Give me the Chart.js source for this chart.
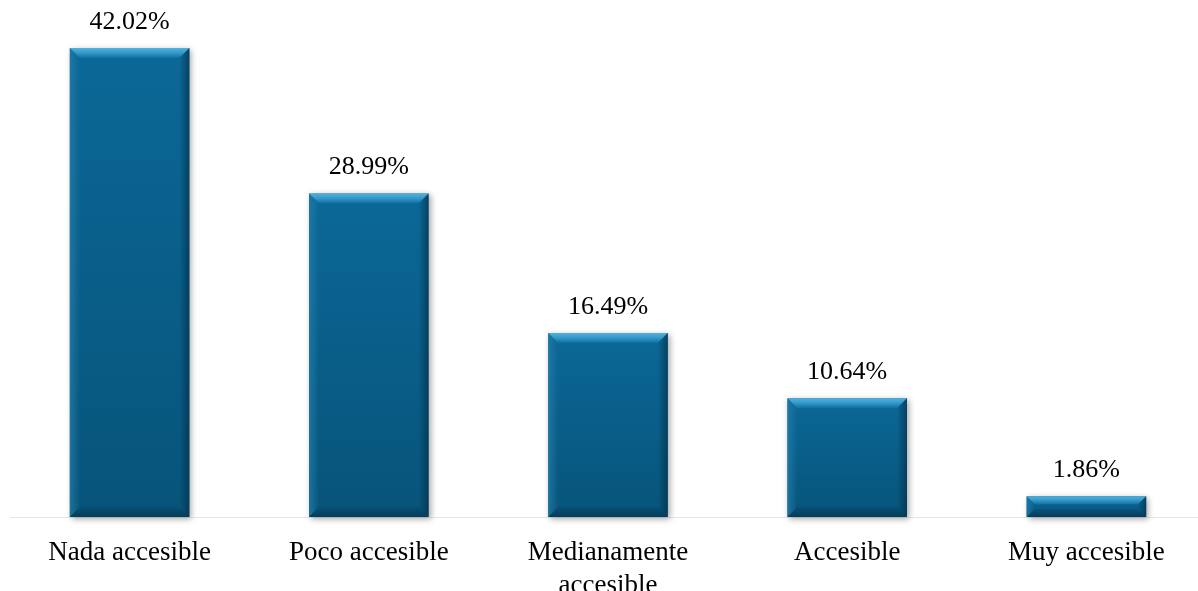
<!DOCTYPE html>
<html>
<head>
<meta charset="utf-8">
<script src="https://cdn.jsdelivr.net/npm/chart.js@4"></script>
<style>
  html, body { margin: 0; padding: 0; background: #fff; overflow: hidden; }
  #wrap { width: 1216px; height: 591px; }
</style>
</head>
<body>
<div id="wrap"><canvas id="chart" width="1216" height="591"></canvas></div>
<script>
// Categories and percentages
const categories = [
  'Nada accesible',
  'Poco accesible',
  ['Medianamente', 'accesible'],
  'Accesible',
  'Muy accesible'
];
const percentages = [42.02, 28.99, 16.49, 10.64, 1.86];

const FONT = '"Liberation Serif", "Times New Roman", serif';

// Beveled bar look: shadowed face plus light/dark edge trapezoids
const bevelBars = {
  id: 'bevelBars',
  afterDatasetsDraw(chart) {
    const ctx = chart.ctx;
    const meta = chart.getDatasetMeta(0);
    meta.data.forEach(bar => {
      const left = bar.x - bar.width / 2;
      const right = bar.x + bar.width / 2;
      const top = bar.y;
      const bottom = bar.base;
      const h = bottom - top;
      const b = Math.min(10, h / 2.5);

      ctx.save();
      // face with drop shadow
      ctx.shadowColor = 'rgba(0,0,0,0.35)';
      ctx.shadowBlur = 6;
      ctx.shadowOffsetX = 2;
      ctx.shadowOffsetY = 2;
      const face = ctx.createLinearGradient(0, top, 0, bottom);
      face.addColorStop(0, '#0b6897');
      face.addColorStop(1, '#07547a');
      ctx.fillStyle = face;
      ctx.fillRect(left, top, right - left, h);
      ctx.restore();

      ctx.save();
      // top edge
      const topG = ctx.createLinearGradient(0, top, 0, top + b);
      topG.addColorStop(0, '#52b0dc');
      topG.addColorStop(0.45, '#359bcc');
      topG.addColorStop(1, '#0f6e9e');
      ctx.fillStyle = topG;
      ctx.beginPath();
      ctx.moveTo(left, top);
      ctx.lineTo(right, top);
      ctx.lineTo(right - b, top + b);
      ctx.lineTo(left + b, top + b);
      ctx.closePath();
      ctx.fill();

      // left edge
      const leftG = ctx.createLinearGradient(left, 0, left + b, 0);
      leftG.addColorStop(0, 'rgba(35,125,170,0.75)');
      leftG.addColorStop(1, 'rgba(35,125,170,0)');
      ctx.fillStyle = leftG;
      ctx.beginPath();
      ctx.moveTo(left, top);
      ctx.lineTo(left + b, top + b);
      ctx.lineTo(left + b, bottom - b);
      ctx.lineTo(left, bottom);
      ctx.closePath();
      ctx.fill();

      // right edge
      const rightG = ctx.createLinearGradient(right - b, 0, right, 0);
      rightG.addColorStop(0, 'rgba(3,45,70,0)');
      rightG.addColorStop(1, 'rgba(3,45,70,0.65)');
      ctx.fillStyle = rightG;
      ctx.beginPath();
      ctx.moveTo(right, top);
      ctx.lineTo(right - b, top + b);
      ctx.lineTo(right - b, bottom - b);
      ctx.lineTo(right, bottom);
      ctx.closePath();
      ctx.fill();

      // bottom edge
      const botG = ctx.createLinearGradient(0, bottom - b, 0, bottom);
      botG.addColorStop(0, 'rgba(3,40,62,0.1)');
      botG.addColorStop(1, 'rgba(3,40,62,0.55)');
      ctx.fillStyle = botG;
      ctx.beginPath();
      ctx.moveTo(left, bottom);
      ctx.lineTo(left + b, bottom - b);
      ctx.lineTo(right - b, bottom - b);
      ctx.lineTo(right, bottom);
      ctx.closePath();
      ctx.fill();
      ctx.restore();
    });
  }
};

// Percentage text above each bar
const valueLabels = {
  id: 'valueLabels',
  afterDatasetsDraw(chart) {
    const ctx = chart.ctx;
    const meta = chart.getDatasetMeta(0);
    ctx.save();
    ctx.font = '26px ' + FONT;
    ctx.fillStyle = '#000';
    ctx.textAlign = 'center';
    ctx.textBaseline = 'middle';
    meta.data.forEach((bar, i) => {
      ctx.fillText(percentages[i].toFixed(2) + '%', bar.x, bar.y - 26);
    });
    ctx.restore();
  }
};

new Chart(document.getElementById('chart'), {
  type: 'bar',
  data: {
    labels: categories,
    datasets: [{
      data: percentages,
      backgroundColor: 'rgba(0,0,0,0)',
      borderWidth: 0,
      barPercentage: 1,
      categoryPercentage: 0.5
    }]
  },
  options: {
    responsive: false,
    animation: false,
    layout: { padding: { left: 10, right: 10, top: 26, bottom: 0 } },
    plugins: {
      legend: { display: false },
      tooltip: { enabled: false }
    },
    scales: {
      x: {
        grid: { display: false },
        border: { display: true, color: '#e6e6e6', width: 1 },
        ticks: {
          color: '#000',
          padding: 11,
          maxRotation: 0,
          autoSkip: false,
          font: { family: FONT, size: 27, lineHeight: 1.23 }
        },
        afterFit(scale) { scale.height = 74; }
      },
      y: {
        display: false,
        min: 0,
        max: 44
      }
    }
  },
  plugins: [bevelBars, valueLabels]
});
</script>
</body>
</html>
